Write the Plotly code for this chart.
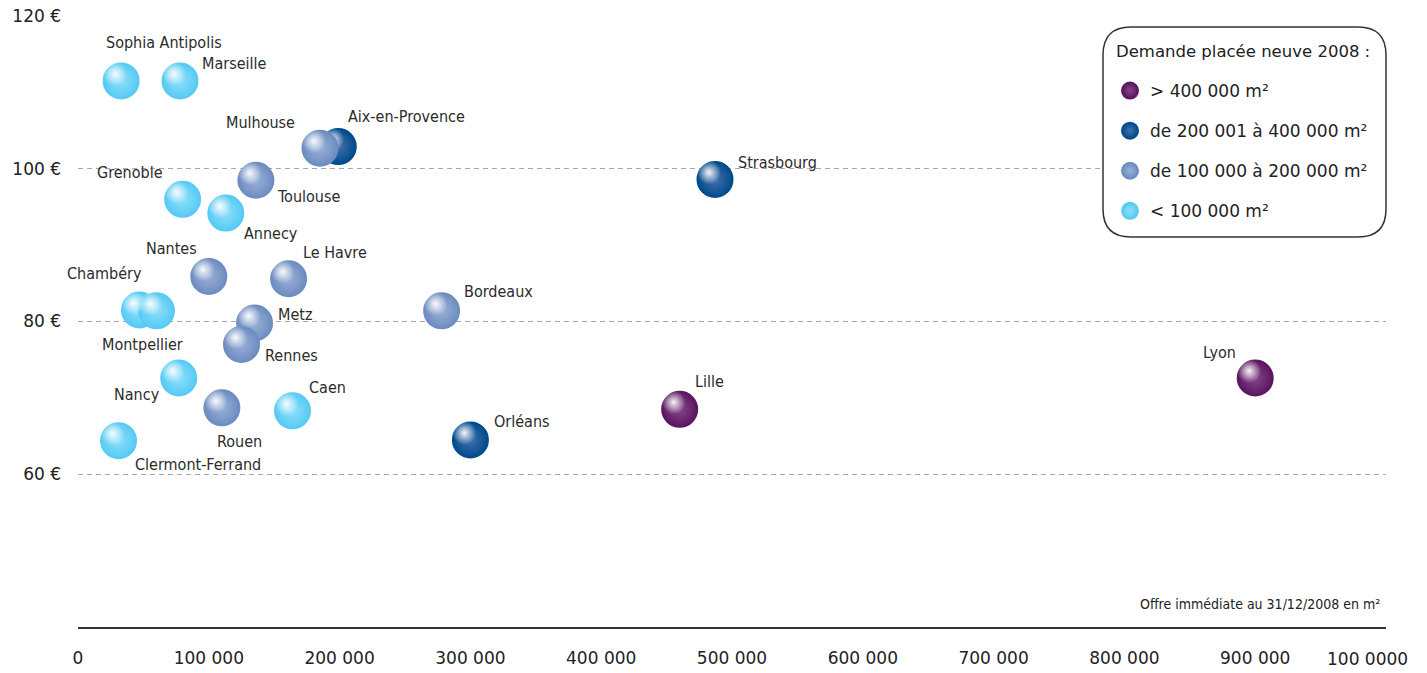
import plotly.graph_objects as go

# --- Données -------------------------------------------------------------
villes = [
    "Sophia Antipolis", "Marseille", "Mulhouse", "Aix-en-Provence", "Grenoble",
    "Toulouse", "Annecy", "Nantes", "Le Havre", "Chambéry", "Montpellier",
    "Metz", "Rennes", "Nancy", "Rouen", "Caen", "Clermont-Ferrand",
    "Strasbourg", "Bordeaux", "Lille", "Orléans", "Lyon",
]
# Offre immédiate au 31/12/2008 (m²)
offre = [
    33000, 78000, 185000, 199000, 80000,
    136000, 113000, 100000, 161000, 47000, 60000,
    135000, 125000, 77000, 110000, 164000, 31000,
    487000, 278000, 460000, 300000, 900000,
]
# Loyer (€ / m² / an)
loyer = [
    111.5, 111.5, 102.7, 102.9, 96.0,
    98.5, 94.2, 85.9, 85.6, 81.5, 81.4,
    79.8, 77.0, 72.6, 68.7, 68.3, 64.4,
    98.6, 81.4, 68.5, 64.5, 72.6,
]
# Classe de demande placée neuve 2008
classe = [
    "c4", "c4", "c3", "c2", "c4",
    "c3", "c4", "c3", "c3", "c4", "c4",
    "c3", "c3", "c4", "c3", "c4", "c4",
    "c2", "c3", "c1", "c2", "c1",
]
classes = ["c1", "c2", "c3", "c4"]
noms_classes = [
    "> 400 000 m²",
    "de 200 001 à 400 000 m²",
    "de 100 000 à 200 000 m²",
    "< 100 000 m²",
]
titre_legende = "Demande placée neuve 2008 :"
titre_x = "Offre immédiate au 31/12/2008 en m²"
x_ticks = [0, 100000, 200000, 300000, 400000, 500000, 600000, 700000, 800000, 900000, 1000000]
x_ticktext = ["0", "100 000", "200 000", "300 000", "400 000", "500 000",
              "600 000", "700 000", "800 000", "900 000", "100 0000"]
y_ticks = [60, 80, 100, 120]
y_ticktext = ["60 €", "80 €", "100 €", "120 €"]

# --- Style ---------------------------------------------------------------
# couleur centre / couleur bord de chaque sphère
teintes = {
    "c1": ("#85448a", "#5c1760"),
    "c2": ("#4570ad", "#004c8c"),
    "c3": ("#9ab1d8", "#6e8dc0"),
    "c4": ("#8fdefa", "#58cbf4"),
}
# position des étiquettes : (ancrage, décalage x px, décalage y px vers le bas)
etiquettes = {
    "Sophia Antipolis": ("center", 43, -38),
    "Marseille": ("left", 20, -17),
    "Mulhouse": ("right", -23, -26),
    "Aix-en-Provence": ("left", 8, -30),
    "Grenoble": ("right", -18, -27),
    "Toulouse": ("left", 19, 16),
    "Annecy": ("left", 16, 20),
    "Nantes": ("right", -10, -28),
    "Le Havre": ("left", 12, -26),
    "Chambéry": ("right", 5, -37),
    "Montpellier": ("center", -14, 34),
    "Metz": ("left", 21, -9),
    "Rennes": ("left", 21, 11),
    "Nancy": ("right", -17, 16),
    "Rouen": ("center", 18, 34),
    "Caen": ("left", 14, -23),
    "Clermont-Ferrand": ("left", 14, 24),
    "Strasbourg": ("left", 21, -17),
    "Bordeaux": ("left", 20, -19),
    "Lille": ("left", 13, -28),
    "Orléans": ("left", 22, -18),
    "Lyon": ("right", -17, -26),
}

W, H = 1427, 673
M = dict(l=78, r=41, t=16, b=46)
PW, PH = W - M["l"] - M["r"], H - M["t"] - M["b"]
X_RANGE = [0, 1000000]
Y_RANGE = [40, 120]
px_x = (X_RANGE[1] - X_RANGE[0]) / PW
px_y = (Y_RANGE[1] - Y_RANGE[0]) / PH

FONT_TXT = "'DejaVu Sans', sans-serif"
FONT_COND = "'Liberation Sans Narrow', 'DejaVu Sans Condensed', 'Roboto Condensed', sans-serif"

fig = go.Figure()

for c, nom in zip(classes, noms_classes):
    idx = [i for i, k in enumerate(classe) if k == c]
    xs = [offre[i] for i in idx]
    ys = [loyer[i] for i in idx]
    centre, bord = teintes[c]
    # corps de la sphère (dégradé radial : gradient.color = centre)
    fig.add_trace(go.Scatter(
        x=xs, y=ys, mode="markers", name=nom, legendgroup=c,
        marker=dict(size=35, color=bord,
                    gradient=dict(type="radial", color=centre),
                    line=dict(width=2, color=bord)),
        cliponaxis=False, hoverinfo="skip",
    ))
    # reflet doux en haut à gauche
    fig.add_trace(go.Scatter(
        x=[v - 6 * px_x for v in xs], y=[v + 7 * px_y for v in ys],
        mode="markers", showlegend=False, legendgroup=c,
        marker=dict(size=24, color="rgba(255,255,255,0)",
                    gradient=dict(type="radial", color="rgba(255,255,255,0.95)"),
                    line=dict(width=0)),
        cliponaxis=False, hoverinfo="skip",
    ))

annotations = []
for v, xv, yv in zip(villes, offre, loyer):
    anc, dx, dy = etiquettes[v]
    annotations.append(dict(
        x=xv, y=yv, xref="x", yref="y", text=v, showarrow=False,
        xanchor=anc, yanchor="middle", xshift=dx, yshift=-dy,
        font=dict(family=FONT_COND, size=16, color="#2b2b2b"),
    ))

# dernier libellé de l'axe des abscisses
annotations.append(dict(
    x=x_ticks[-1], y=0, xref="x", yref="paper", text=x_ticktext[-1],
    showarrow=False, xanchor="center", yanchor="middle", xshift=-19, yshift=-32,
    font=dict(family=FONT_TXT, size=17, color="#222"),
))
# titre de l'axe des abscisses
annotations.append(dict(
    x=1, y=0, xref="paper", yref="paper", text=titre_x,
    showarrow=False, xanchor="right", yanchor="middle", xshift=-4, yshift=23,
    font=dict(family=FONT_COND, size=14, color="#222"),
))
# titre de la légende
annotations.append(dict(
    x=(1114 - M["l"]) / PW, y=(H - M["b"] - 52) / PH, xref="paper", yref="paper",
    text=titre_legende, showarrow=False, xanchor="left", yanchor="middle",
    font=dict(family=FONT_TXT, size=16.5, color="#222"),
))

# cadre arrondi de la légende (fond blanc masquant la grille)
bx0, bx1 = (1103 - M["l"]) / PW, (1386 - M["l"]) / PW
by0, by1 = (H - M["b"] - 237) / PH, (H - M["b"] - 27) / PH
rx, ry = 28 / PW, 28 / PH
path = (
    f"M {bx0 + rx},{by1} L {bx1 - rx},{by1} Q {bx1},{by1} {bx1},{by1 - ry} "
    f"L {bx1},{by0 + ry} Q {bx1},{by0} {bx1 - rx},{by0} "
    f"L {bx0 + rx},{by0} Q {bx0},{by0} {bx0},{by0 + ry} "
    f"L {bx0},{by1 - ry} Q {bx0},{by1} {bx0 + rx},{by1} Z"
)

fig.update_layout(
    width=W, height=H, margin=dict(M, autoexpand=False),
    paper_bgcolor="white", plot_bgcolor="white",
    showlegend=True,
    legend=dict(
        x=(1110 - M["l"]) / PW, y=(H - M["b"] - 73) / PH,
        xanchor="left", yanchor="top",
        bgcolor="rgba(0,0,0,0)", borderwidth=0,
        font=dict(family=FONT_TXT, size=17, color="#222"),
        tracegroupgap=15, itemsizing="trace",
    ),
    annotations=annotations,
    shapes=[dict(type="path", path=path, xref="paper", yref="paper",
                 line=dict(color="#333", width=1.5), fillcolor="white",
                 layer="above")],
    xaxis=dict(
        range=X_RANGE, showgrid=False, zeroline=False, automargin=False,
        showline=True, linecolor="#333", linewidth=1.5,
        tickvals=x_ticks[:-1], ticktext=x_ticktext[:-1],
        ticks="", ticklabelstandoff=15,
        tickfont=dict(family=FONT_TXT, size=17, color="#222"),
        fixedrange=True,
    ),
    yaxis=dict(
        range=Y_RANGE, showgrid=True, gridcolor="#a8a8a8", gridwidth=1,
        griddash="5px,4px", zeroline=False, showline=False, automargin=False,
        tickvals=y_ticks, ticktext=y_ticktext,
        ticks="", ticklabelstandoff=16,
        tickfont=dict(family=FONT_TXT, size=17, color="#222"),
        fixedrange=True,
    ),
)

fig.write_html("out.html")
